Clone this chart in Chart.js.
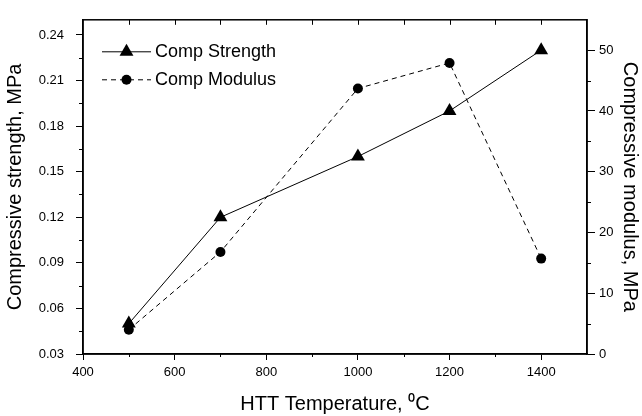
<!DOCTYPE html>
<html>
<head>
<meta charset="utf-8">
<script src="https://cdn.jsdelivr.net/npm/chart.js@4/dist/chart.umd.min.js"></script>
<style>
  html, body { margin: 0; padding: 0; background: #fff; }
  #wrap { width: 642px; height: 416px; }
</style>
</head>
<body>
<div id="wrap"><canvas id="chart" width="642" height="416"></canvas></div>
<script>
// ── Data ──────────────────────────────────────────────────────
const temps      = [500, 700, 1000, 1200, 1400];
const strength   = [0.05, 0.12, 0.16, 0.19, 0.23];   // MPa, left axis
const modulus    = [4.0, 16.8, 43.7, 47.9, 15.7];    // MPa, right axis

const xTicks     = [400, 600, 800, 1000, 1200, 1400];
const xMinor     = [500, 700, 900, 1100, 1300];
const topTicks   = [500, 600, 700, 800, 900, 1000, 1100, 1200, 1300, 1400];
const leftTicks  = [0.03, 0.06, 0.09, 0.12, 0.15, 0.18, 0.21, 0.24];
const leftMinor  = [0.045, 0.075, 0.105, 0.135, 0.165, 0.195, 0.225];
const rightTicks = [0, 10, 20, 30, 40, 50];
const rightMinor = [5, 15, 25, 35, 45];

const FONT = "'Liberation Sans', Arial, sans-serif";

const toPoints = (xs, ys) => xs.map((x, i) => ({ x, y: ys[i] }));

// ── Frame, minor ticks, top ticks and the inset legend ───────
const framePlugin = {
    id: 'frame',
    afterDraw(chart) {
        const { ctx, chartArea: a, scales } = chart;
        ctx.save();
        ctx.strokeStyle = '#000';
        ctx.lineWidth = 1.5;
        ctx.strokeRect(a.left, a.top, a.right - a.left, a.bottom - a.top);

        ctx.lineWidth = 1;
        ctx.beginPath();
        topTicks.forEach(v => {
            const x = Math.round(scales.x.getPixelForValue(v)) + 0.5;
            ctx.moveTo(x, a.top); ctx.lineTo(x, a.top + 5);
        });
        xMinor.forEach(v => {
            const x = Math.round(scales.x.getPixelForValue(v)) + 0.5;
            ctx.moveTo(x, a.bottom); ctx.lineTo(x, a.bottom + 3);
        });
        leftMinor.forEach(v => {
            const y = Math.round(scales.y.getPixelForValue(v)) + 0.5;
            ctx.moveTo(a.left, y); ctx.lineTo(a.left - 4, y);
        });
        rightMinor.forEach(v => {
            const y = Math.round(scales.y1.getPixelForValue(v)) + 0.5;
            ctx.moveTo(a.right, y); ctx.lineTo(a.right + 4, y);
        });
        ctx.stroke();

        // legend rows
        const rows = [{ y: a.top + 32 }, { y: a.top + 60 }];
        chart.data.datasets.forEach((ds, i) => {
            const y = rows[i].y;
            const x0 = a.left + 19, x1 = a.left + 68, xm = (x0 + x1) / 2;
            ctx.strokeStyle = '#000';
            ctx.lineWidth = 1;
            ctx.setLineDash(ds.borderDash || []);
            ctx.beginPath(); ctx.moveTo(x0, y); ctx.lineTo(x1, y); ctx.stroke();
            ctx.setLineDash([]);
            ctx.fillStyle = '#000';
            ctx.beginPath();
            if (ds.pointStyle === 'triangle') {
                const r = ds.pointRadius;
                ctx.moveTo(xm, y - r);
                ctx.lineTo(xm + r * 0.866, y + r / 2);
                ctx.lineTo(xm - r * 0.866, y + r / 2);
                ctx.closePath();
            } else {
                ctx.arc(xm, y, ds.pointRadius, 0, Math.PI * 2);
            }
            ctx.fill();
            ctx.font = '18px ' + FONT;
            ctx.textBaseline = 'middle';
            ctx.textAlign = 'left';
            ctx.fillText(ds.label, x1 + 4, y);
        });
        ctx.restore();
    }
};

new Chart(document.getElementById('chart'), {
    type: 'line',
    data: {
        datasets: [
            {
                label: 'Comp Strength',
                data: toPoints(temps, strength),
                yAxisID: 'y',
                borderColor: '#000',
                backgroundColor: '#000',
                borderWidth: 1,
                pointStyle: 'triangle',
                pointRadius: 8,
                pointBorderWidth: 0,
                tension: 0,
                clip: false,
            },
            {
                label: 'Comp Modulus',
                data: toPoints(temps, modulus),
                yAxisID: 'y1',
                borderColor: '#000',
                backgroundColor: '#000',
                borderWidth: 1,
                borderDash: [5, 4],
                pointStyle: 'circle',
                pointRadius: 5,
                pointBorderWidth: 0,
                tension: 0,
                clip: false,
            }
        ]
    },
    options: {
        responsive: false,
        animation: false,
        layout: { padding: { top: 10, left: 0, right: 0, bottom: 0 } },
        plugins: { legend: { display: false }, tooltip: { enabled: false } },
        scales: {
            x: {
                type: 'linear',
                min: 400, max: 1500,
                afterBuildTicks: s => { s.ticks = xTicks.map(value => ({ value })); },
                afterFit: s => { s.height = 62; },
                grid: { drawOnChartArea: false, drawTicks: true, tickLength: 6, color: '#000', lineWidth: 1 },
                border: { display: true, color: '#000', width: 1.5 },
                ticks: { color: '#000', font: { family: FONT, size: 13 }, padding: 5, maxRotation: 0, callback: v => String(v) },
                title: {
                    display: true,
                    text: 'HTT Temperature, \u2070C',
                    color: '#000',
                    font: { family: FONT, size: 20, lineHeight: 1.2 },
                    padding: { top: 0, bottom: 0 }
                }
            },
            y: {
                type: 'linear',
                position: 'left',
                min: 0.03, max: 0.25,
                afterBuildTicks: s => { s.ticks = leftTicks.map(value => ({ value })); },
                afterFit: s => { s.width = 83; },
                grid: { drawOnChartArea: false, drawTicks: true, tickLength: 7, color: '#000', lineWidth: 1 },
                border: { display: true, color: '#000', width: 1.5 },
                ticks: { color: '#000', font: { family: FONT, size: 13 }, padding: 12, callback: v => v.toFixed(2) },
                title: {
                    display: true,
                    text: 'Compressive strength, MPa',
                    color: '#000',
                    font: { family: FONT, size: 20, lineHeight: 1.2 },
                    padding: { top: 3, bottom: 0 }
                }
            },
            y1: {
                type: 'linear',
                position: 'right',
                min: 0, max: 55,
                afterBuildTicks: s => { s.ticks = rightTicks.map(value => ({ value })); },
                afterFit: s => { s.width = 55; },
                grid: { drawOnChartArea: false, drawTicks: true, tickLength: 8, color: '#000', lineWidth: 1 },
                border: { display: true, color: '#000', width: 1.5 },
                ticks: { color: '#000', font: { family: FONT, size: 13 }, padding: 4 },
                title: {
                    display: true,
                    text: 'Compressive modulus, MPa',
                    color: '#000',
                    font: { family: FONT, size: 20, lineHeight: 1.2 },
                    padding: { top: 0, bottom: 0 }
                }
            }
        }
    },
    plugins: [framePlugin]
});
</script>
</body>
</html>
